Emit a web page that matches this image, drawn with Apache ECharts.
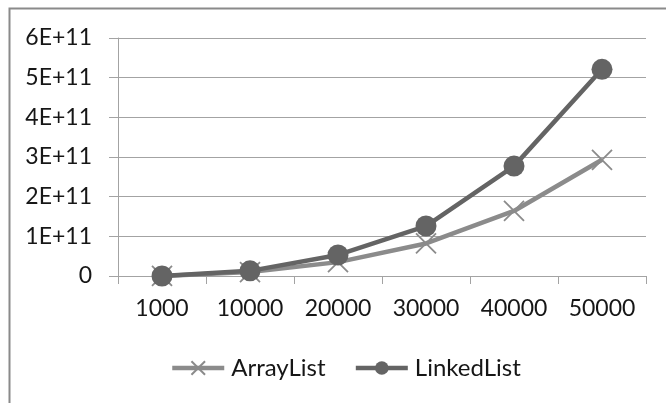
<!DOCTYPE html>
<html>
<head>
<meta charset="utf-8">
<script src="https://cdn.jsdelivr.net/npm/echarts@6/dist/echarts.min.js"></script>
<style>
  html, body { margin: 0; padding: 0; background: #fff; }
  #chart { width: 666px; height: 403px; }
</style>
</head>
<body>
<div id="chart"></div>
<script>
// List sizes on the category axis
const sizes = ['1000', '10000', '20000', '30000', '40000', '50000'];
// Measured times for each list implementation
const arrayListTimes  = [0.001e11, 0.10e11, 0.35e11, 0.82e11, 1.64e11, 2.93e11];
const linkedListTimes = [0.001e11, 0.13e11, 0.53e11, 1.26e11, 2.77e11, 5.21e11];
// Value axis range and step
const yMin = 0, yMax = 6e11, yStep = 1e11;

const FONT = 'Lato';
const TEXT = '#161616';
const GRID_GRAY = '#a3a3a3';
const ARRAY_GRAY = '#8b8b8b';
const LINKED_GRAY = '#646464';

const chart = echarts.init(document.getElementById('chart'), null, { renderer: 'canvas' });

chart.setOption({
  backgroundColor: '#ffffff',
  animation: false,
  graphic: [{
    type: 'rect',
    shape: { x: 9.5, y: 8.5, width: 700, height: 450 },
    style: { fill: 'none', stroke: '#8a8a8a', lineWidth: 2 },
    silent: true,
    z: -1
  }],
  grid: { left: 118, right: 20, top: 38, bottom: 127, containLabel: false },
  legend: {
    left: 165,
    bottom: 18,
    itemWidth: 52,
    itemHeight: 17,
    itemGap: 28,
    lineStyle: { width: 4.5 },
    textStyle: { fontFamily: FONT, fontSize: 24, color: TEXT, padding: [0, 0, 0, 2] },
    data: ['ArrayList', 'LinkedList']
  },
  xAxis: {
    type: 'category',
    data: sizes,
    boundaryGap: true,
    axisLine: { lineStyle: { color: GRID_GRAY, width: 1 } },
    axisTick: { show: true, length: 8, inside: false, lineStyle: { color: GRID_GRAY } },
    axisLabel: { fontFamily: FONT, fontSize: 23, color: TEXT, margin: 21 }
  },
  yAxis: {
    type: 'value',
    min: yMin,
    max: yMax,
    interval: yStep,
    axisLine: { show: true, lineStyle: { color: GRID_GRAY, width: 1 } },
    axisTick: { show: true, length: 9, lineStyle: { color: GRID_GRAY } },
    splitLine: { lineStyle: { color: GRID_GRAY, width: 1 } },
    axisLabel: {
      fontFamily: FONT, fontSize: 23, color: TEXT, margin: 26,
      formatter: v => v === 0 ? '0' : (v / 1e11) + 'E+11'
    }
  },
  series: [
    {
      name: 'ArrayList',
      type: 'line',
      data: arrayListTimes,
      symbol: 'path://M0,0L10,10M0,10L10,0',
      symbolSize: 20,
      showAllSymbol: true,
      lineStyle: { color: ARRAY_GRAY, width: 4.5 },
      itemStyle: { color: 'rgba(0,0,0,0)', borderColor: ARRAY_GRAY, borderWidth: 1.8 },
      z: 2
    },
    {
      name: 'LinkedList',
      type: 'line',
      data: linkedListTimes,
      symbol: 'circle',
      symbolSize: 21,
      showAllSymbol: true,
      lineStyle: { color: LINKED_GRAY, width: 4.5 },
      itemStyle: { color: LINKED_GRAY, borderWidth: 0 },
      z: 3
    }
  ]
});
</script>
</body>
</html>
